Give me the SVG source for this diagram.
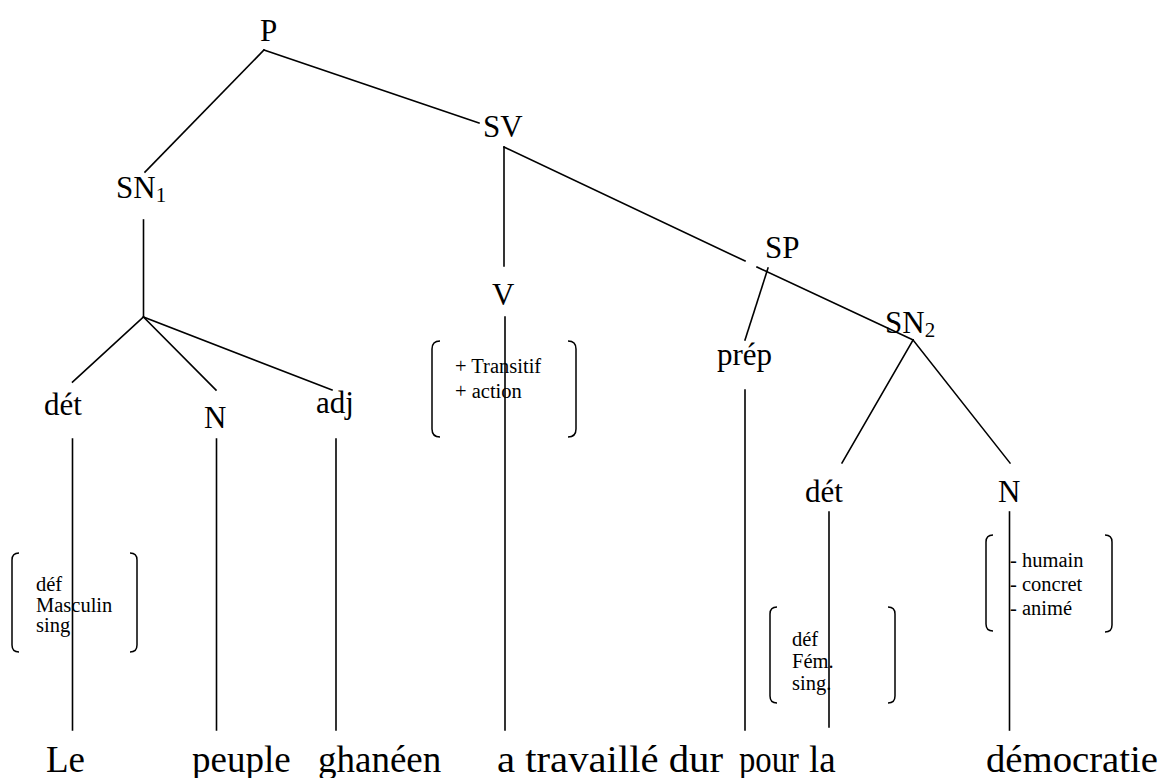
<svg xmlns="http://www.w3.org/2000/svg" width="1162" height="778" viewBox="0 0 1162 778">
<style>
.lbl{font-family:"Liberation Serif","Times New Roman",serif;font-size:31px;fill:#000}
.sub{font-size:21px}
.sm{font-family:"Liberation Serif","Times New Roman",serif;font-size:20.5px;fill:#000}
.word{font-family:"Liberation Serif","Times New Roman",serif;font-size:37px;fill:#000}
.ln{stroke:#000;stroke-width:1.6;fill:none;stroke-linecap:square}
.br{stroke:#000;stroke-width:1.5;fill:none}
</style>
<rect width="1162" height="778" fill="#fff"/>
<g id="connectors">
<line class="ln" x1="264" y1="50" x2="145" y2="172"/>
<line class="ln" x1="264" y1="50" x2="479" y2="123"/>
<line class="ln" x1="504" y1="147" x2="504" y2="266"/>
<line class="ln" x1="504" y1="147" x2="745" y2="261"/>
<line class="ln" x1="143.5" y1="220" x2="143.5" y2="317"/>
<line class="ln" x1="143.5" y1="317" x2="72.5" y2="382"/>
<line class="ln" x1="143.5" y1="317" x2="216" y2="390"/>
<line class="ln" x1="143.5" y1="317" x2="332" y2="390"/>
<line class="ln" x1="72.5" y1="439" x2="72.5" y2="730"/>
<line class="ln" x1="216.5" y1="439" x2="216.5" y2="730"/>
<line class="ln" x1="336" y1="439" x2="336" y2="730"/>
<line class="ln" x1="505" y1="317" x2="505" y2="730"/>
<line class="ln" x1="768" y1="268" x2="745" y2="340"/>
<line class="ln" x1="757" y1="267" x2="913" y2="340"/>
<line class="ln" x1="745" y1="390" x2="745" y2="730"/>
<line class="ln" x1="913" y1="340" x2="842" y2="463"/>
<line class="ln" x1="913" y1="340" x2="1010" y2="463"/>
<line class="ln" x1="829" y1="512" x2="829" y2="727"/>
<line class="ln" x1="1009.5" y1="512" x2="1009.5" y2="730"/>
</g>
<g id="node-P"><text class="lbl" x="260" y="41">P</text></g>
<g id="node-SV"><text class="lbl" x="483" y="137">SV</text></g>
<g id="node-SN1"><text class="lbl" x="116" y="198">SN<tspan class="sub" dy="4">1</tspan></text></g>
<g id="node-V"><text class="lbl" x="492" y="305">V</text></g>
<g id="node-SP"><text class="lbl" x="765" y="258">SP</text></g>
<g id="node-SN2"><text class="lbl" x="885" y="333">SN<tspan class="sub" dy="4">2</tspan></text></g>
<g id="node-det1"><text class="lbl" x="44" y="415">dét</text></g>
<g id="node-N1"><text class="lbl" x="204" y="428">N</text></g>
<g id="node-adj"><text class="lbl" x="316" y="413">adj</text></g>
<g id="node-prep"><text class="lbl" x="717" y="365">prép</text></g>
<g id="node-det2"><text class="lbl" x="805" y="502">dét</text></g>
<g id="node-N2"><text class="lbl" x="998" y="502">N</text></g>
<g id="feat-V">
<path class="br" d="M440,341 Q432,341 432,349 V429 Q432,437 440,437"/>
<path class="br" d="M568,341 Q576,341 576,349 V429 Q576,437 568,437"/>
<text class="sm" x="455" y="373">+ Transitif</text>
<text class="sm" x="455" y="398">+ action</text>
</g>
<g id="feat-det1">
<path class="br" d="M19,553 Q12,553 12,560 V645 Q12,652 19,652"/>
<path class="br" d="M130,553 Q137,553 137,560 V645 Q137,652 130,652"/>
<text class="sm" x="36" y="591">déf</text>
<text class="sm" x="36" y="612">Masculin</text>
<text class="sm" x="36" y="632">sing</text>
</g>
<g id="feat-det2">
<path class="br" d="M777,607 Q770,607 770,614 V696 Q770,703 777,703"/>
<path class="br" d="M888,607 Q895,607 895,614 V696 Q895,703 888,703"/>
<text class="sm" x="792" y="646">déf</text>
<text class="sm" x="792" y="668">Fém.</text>
<text class="sm" x="792" y="690">sing.</text>
</g>
<g id="feat-N2">
<path class="br" d="M993,535 Q986,535 986,542 V624 Q986,631 993,631"/>
<path class="br" d="M1105,535 Q1112,535 1112,542 V625 Q1112,632 1105,632"/>
<text class="sm" x="1010" y="567">- humain</text>
<text class="sm" x="1010" y="591">- concret</text>
<text class="sm" x="1010" y="615">- animé</text>
</g>
<g id="sentence">
<text class="word" x="46" y="772">Le</text>
<text class="word" x="192" y="772">peuple</text>
<text class="word" x="318" y="772">ghanéen</text>
<text class="word" x="497" y="772" textLength="226" lengthAdjust="spacingAndGlyphs">a travaillé dur</text>
<text class="word" x="739" y="772" textLength="60" lengthAdjust="spacingAndGlyphs">pour</text>
<text class="word" x="809" y="772">la</text>
<text class="word" x="986" y="772" textLength="172" lengthAdjust="spacingAndGlyphs">démocratie</text>
</g>
</svg>
